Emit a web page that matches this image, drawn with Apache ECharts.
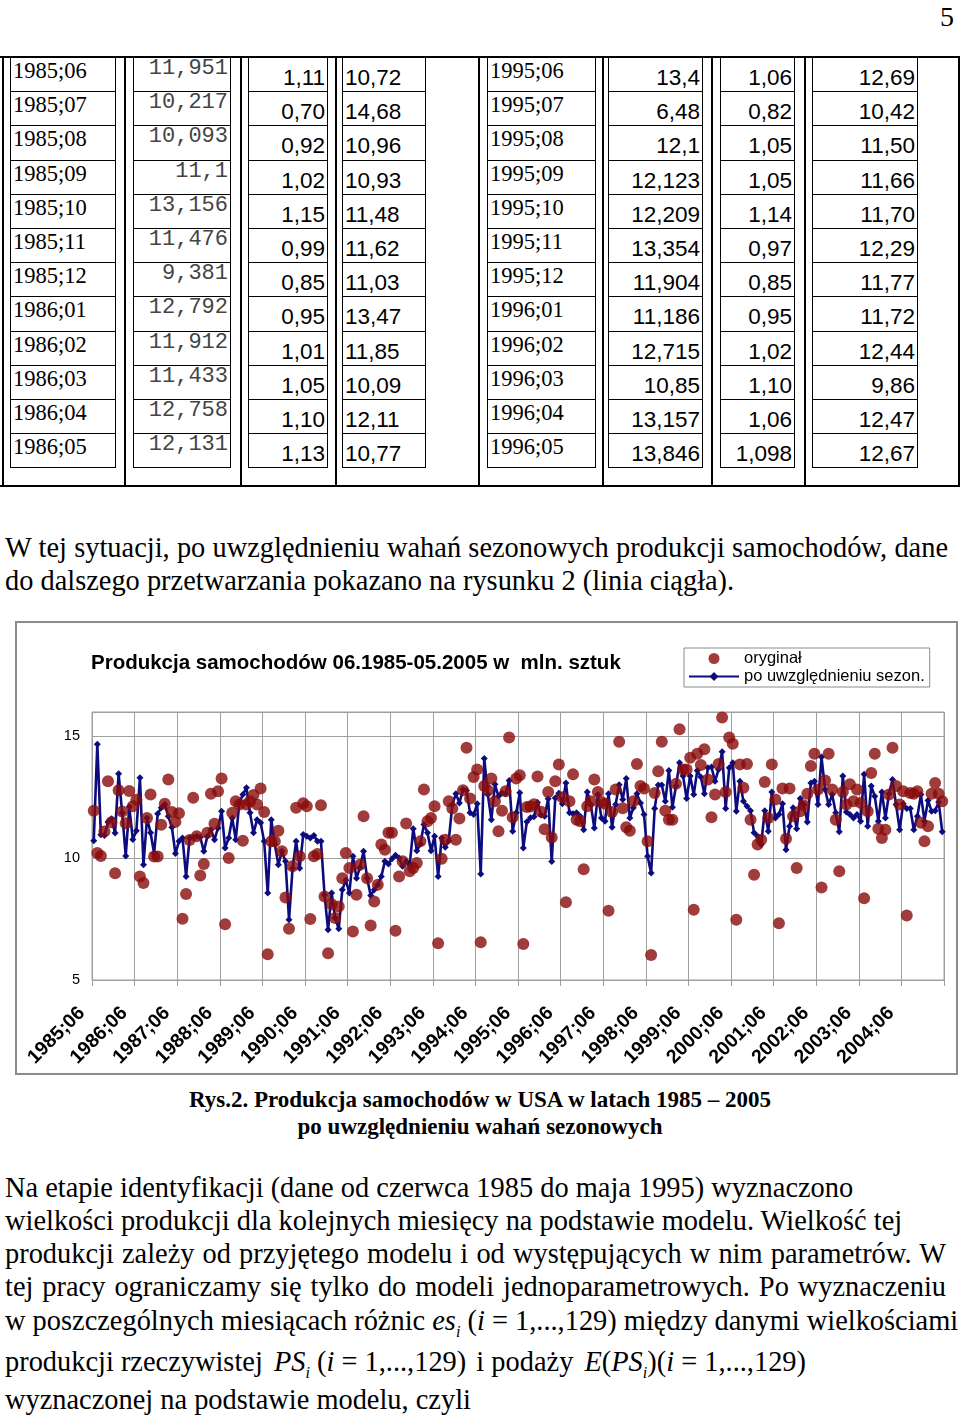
<!DOCTYPE html>
<html><head><meta charset="utf-8">
<script src="https://cdn.jsdelivr.net/npm/echarts@6/dist/echarts.min.js"></script>
<style>
body{margin:0;background:#fff;width:960px;height:1420px;position:relative;overflow:hidden;font-family:'Liberation Serif','Times New Roman',serif;color:#000;}
.t{position:absolute;white-space:nowrap;line-height:1;}
.box{position:absolute;box-sizing:border-box;border:1px solid #000;}
.vl{position:absolute;width:1.5px;background:#000;}
.hl{position:absolute;height:1.5px;background:#000;}
.p{position:absolute;white-space:nowrap;line-height:1;font-size:28.4px;left:5px;}
.j{text-align:justify;text-align-last:justify;}
.p sub{font-size:16px;}
</style></head><body>
<div class="t" style="left:940px;top:3px;font-size:28px">5</div>
<div id="tbl"></div>

<div class="p j" style="top:534px;width:943px;">W tej sytuacji, po uwzględnieniu wahań sezonowych produkcji samochodów, dane</div>
<div class="p" style="top:567px;">do dalszego przetwarzania pokazano na rysunku 2 (linia ciągła).</div>

<div style="position:absolute;left:15px;top:621px;width:943px;height:454px;border:2px solid #8c8c8c;box-sizing:border-box"></div>
<div id="chart" style="position:absolute;left:15px;top:621px;width:943px;height:454px"></div>

<div class="t" style="left:0;width:960px;text-align:center;top:1088px;font-size:23px;font-weight:bold;">Rys.2. Produkcja samochodów w USA w latach 1985 – 2005</div>
<div class="t" style="left:0;width:960px;text-align:center;top:1115px;font-size:23px;font-weight:bold;">po uwzględnieniu wahań sezonowych</div>

<div class="p" style="top:1174px;">Na etapie identyfikacji (dane od czerwca 1985 do maja 1995) wyznaczono</div>
<div class="p" style="top:1207px;">wielkości produkcji dla kolejnych miesięcy na podstawie modelu. Wielkość tej</div>
<div class="p j" style="top:1240px;width:941px;">produkcji zależy od przyjętego modelu i od występujących w nim parametrów. W</div>
<div class="p j" style="top:1273px;width:941px;">tej pracy ograniczamy się tylko do modeli jednoparametrowych. Po wyznaczeniu</div>
<div class="p j" style="top:1307px;width:950px;">w poszczególnych miesiącach różnic <i>es<sub>i</sub></i> (<i>i</i> = 1,...,129) między danymi wielkościami</div>
<div class="p" style="top:1348px;">produkcji rzeczywistej <span style="margin-left:4px"><i>PS<sub>i</sub></i></span> (<i>i</i> = 1,...,129) <span style="margin-left:3px">i podaży</span> <span style="margin-left:4px"><i>E</i>(<i>PS<sub>i</sub></i>)(<i>i</i> = 1,...,129)</span></div>
<div class="p" style="top:1386px;">wyznaczonej na podstawie modelu, czyli</div>

<script>
// ---------- table data ----------
const tDatesA = ['1985;06','1985;07','1985;08','1985;09','1985;10','1985;11','1985;12','1986;01','1986;02','1986;03','1986;04','1986;05'];
const tOrigA  = ['11,951','10,217','10,093','11,1','13,156','11,476','9,381','12,792','11,912','11,433','12,758','12,131'];
const tFactA  = ['1,11','0,70','0,92','1,02','1,15','0,99','0,85','0,95','1,01','1,05','1,10','1,13'];
const tAdjA   = ['10,72','14,68','10,96','10,93','11,48','11,62','11,03','13,47','11,85','10,09','12,11','10,77'];
const tDatesB = ['1995;06','1995;07','1995;08','1995;09','1995;10','1995;11','1995;12','1996;01','1996;02','1996;03','1996;04','1996;05'];
const tOrigB  = ['13,4','6,48','12,1','12,123','12,209','13,354','11,904','11,186','12,715','10,85','13,157','13,846'];
const tFactB  = ['1,06','0,82','1,05','1,05','1,14','0,97','0,85','0,95','1,02','1,10','1,06','1,098'];
const tAdjB   = ['12,69','10,42','11,50','11,66','11,70','12,29','11,77','11,72','12,44','9,86','12,47','12,67'];

// ---------- chart data (mln. sztuk), 06.1985 - 05.2005 ----------
const startYear = 1985, startMonth = 6, monthCount = 240;
const original = [
11.951,10.217,10.093,11.1,13.156,11.476,9.381,12.792,11.912,11.433,12.758,12.131,
12.40,9.25,8.98,11.65,12.61,10.07,10.07,11.37,12.23,13.23,11.90,11.49,
11.84,7.51,8.53,10.75,12.48,10.90,9.29,9.76,11.04,12.64,11.41,12.75,
13.27,7.29,10.01,11.86,12.34,12.20,10.72,12.20,12.34,12.59,12.20,12.86,
11.90,6.06,10.69,10.69,11.13,10.28,8.39,7.10,9.67,12.07,10.08,12.25,
12.13,7.50,10.08,10.17,12.17,8.43,6.10,8.11,7.54,8.02,9.18,10.21,
9.60,6.99,8.50,9.73,11.72,9.18,7.24,8.22,8.91,10.56,10.35,11.04,
11.04,7.02,9.25,9.87,11.42,9.46,9.60,9.80,10.69,12.82,11.52,11.65,
12.13,6.51,9.98,10.76,12.34,12.04,10.76,11.63,12.79,14.53,12.45,13.33,
13.64,6.55,12.96,12.79,13.27,12.34,11.11,11.95,12.75,14.95,11.68,13.27,
13.4,6.48,12.1,12.123,12.209,13.354,11.904,11.186,12.715,10.85,13.157,13.846,
12.50,8.19,12.34,13.44,11.58,11.52,9.55,12.13,12.34,13.23,12.72,12.31,
12.23,7.84,11.90,12.82,14.78,12.05,11.27,11.13,12.34,13.87,12.96,12.86,
10.69,6.03,12.68,13.57,14.78,11.95,11.58,11.58,13.05,15.29,13.64,13.64,
14.12,7.88,14.29,13.82,14.47,13.23,11.68,12.61,13.87,15.77,12.72,14.95,
14.70,7.47,13.85,12.89,13.87,11.58,9.32,10.56,10.76,13.13,11.65,13.85,
12.41,7.33,12.86,10.80,12.86,11.72,9.60,11.93,12.17,12.64,13.78,14.29,
12.82,8.80,13.19,14.29,12.82,11.58,9.46,12.72,12.20,13.03,12.34,12.82,
12.27,8.36,11.93,13.50,14.29,11.21,10.83,11.17,12.61,14.53,12.96,12.20,
12.75,7.65,12.68,12.64,12.75,11.45,10.69,11.31,12.64,13.09,12.64,12.34
];
const adjusted = [
10.72,14.68,10.96,10.93,11.48,11.62,11.03,13.47,11.85,10.09,12.11,10.77,
11.13,13.30,9.73,11.65,11.04,10.19,11.82,12.07,12.20,11.72,11.27,10.19,
10.69,10.83,9.25,10.83,10.86,10.90,10.86,10.28,10.90,11.17,10.76,11.24,
11.93,10.42,10.83,11.65,10.76,12.27,12.61,12.89,11.86,11.04,11.58,11.45,
10.69,8.57,11.58,10.56,9.73,10.28,9.87,7.47,9.59,10.69,9.59,10.97,
10.90,10.83,10.93,10.69,10.69,8.50,7.06,8.57,7.54,7.10,8.70,9.09,
8.57,10.08,9.18,9.62,10.28,9.18,8.47,8.70,8.91,9.25,9.87,9.76,
9.98,10.12,10.01,9.67,9.87,9.73,11.21,10.31,10.58,11.38,11.04,10.31,
10.90,9.25,10.83,10.45,10.72,12.20,12.64,12.27,12.82,12.78,11.86,11.79,
12.23,9.35,14.09,12.61,11.58,13.03,12.54,12.68,12.64,13.19,11.11,11.86,
12.69,10.42,11.50,11.66,11.70,12.29,11.77,11.72,12.44,9.86,12.47,12.67,
12.23,13.09,11.86,11.82,11.86,11.72,11.17,12.72,12.20,11.24,12.61,11.65,
11.52,12.64,11.27,12.20,13.01,12.41,13.27,11.65,12.07,12.64,12.27,11.79,
10.08,9.39,12.04,13.00,13.00,12.34,13.60,12.09,12.96,13.92,13.37,12.45,
13.37,12.61,13.60,13.33,12.64,13.71,13.74,13.16,13.64,14.37,12.04,13.71,
13.92,11.93,13.16,12.34,12.13,11.95,11.04,10.90,10.56,11.95,11.11,12.72,
11.65,11.79,12.23,10.35,11.31,12.07,11.21,12.45,12.20,11.49,13.09,13.16,
12.20,14.15,12.82,12.20,12.61,11.86,11.08,13.37,11.90,11.79,11.65,11.79,
11.52,13.44,11.31,12.96,12.54,11.52,12.72,11.65,12.64,13.23,12.20,11.17,
12.23,12.04,12.04,11.17,11.72,12.61,11.52,12.37,11.93,11.95,12.31,11.08
];
const yTicks = [5, 10, 15];
const seriesNames = ['oryginał', 'po uwzględnieniu sezon.'];
const chartTitle = 'Produkcja samochodów 06.1985-05.2005 w  mln. sztuk';

// category labels "YYYY;MM"
const categories = [];
for (let k = 0; k < monthCount; k++) {
  const mm = (startMonth - 1 + k) % 12 + 1;
  const yy = startYear + Math.floor((startMonth - 1 + k) / 12);
  categories.push(yy + ';' + String(mm).padStart(2, '0'));
}

// ---------- table layout ----------
(function buildTable(){
  const host = document.getElementById('tbl');
  const top0 = 57, rowH = 34.2, nRows = 12;
  const cols = [
    {data:tDatesA, x1:10, x2:116, font:"'Liberation Serif'", size:22.5, align:'left', dy:3, color:'#000'},
    {data:tOrigA, x1:133, x2:231, font:"'Liberation Mono'", size:22, align:'right', dy:1, color:'#444'},
    {data:tFactA, x1:248, x2:328, font:"'Liberation Sans'", size:22.5, align:'right', dy:10, color:'#000'},
    {data:tAdjA, x1:342, x2:426, font:"'Liberation Sans'", size:22.5, align:'left', dy:10, color:'#000'},
    {data:tDatesB, x1:487, x2:596, font:"'Liberation Serif'", size:22.5, align:'left', dy:3, color:'#000'},
    {data:tOrigB, x1:608, x2:703, font:"'Liberation Sans'", size:22.5, align:'right', dy:10, color:'#000'},
    {data:tFactB, x1:720, x2:795, font:"'Liberation Sans'", size:22.5, align:'right', dy:10, color:'#000'},
    {data:tAdjB, x1:812, x2:918, font:"'Liberation Sans'", size:22.5, align:'right', dy:10, color:'#000'}
  ];
  let html = '';
  html += `<div class="hl" style="left:0;width:960px;top:${top0-1}px;height:2px"></div>`;
  html += `<div class="hl" style="left:0;width:960px;top:${top0+rowH*nRows+18}px"></div>`;
  [2,124,240,335,478,602,711,804,958].forEach(x=>{
    html += `<div class="vl" style="left:${x}px;top:${top0}px;height:${rowH*nRows+19}px"></div>`;
  });
  cols.forEach(c=>{
    c.data.forEach((s,r)=>{
      const y = top0 + rowH*r;
      html += `<div class="box" style="left:${c.x1}px;top:${y}px;width:${c.x2-c.x1}px;height:${rowH+1}px"></div>`;
      const pad = 3;
      const style = c.align==='left' ? `left:${c.x1+pad}px;` : `left:${c.x1}px;width:${c.x2-c.x1-pad}px;text-align:right;`;
      html += `<div class="t" style="${style}top:${y+c.dy}px;font-family:${c.font};font-size:${c.size}px;color:${c.color}">${s}</div>`;
    });
  });
  host.innerHTML = html;
})();

// ---------- chart ----------
const chart = echarts.init(document.getElementById('chart'), null, {renderer:'canvas'});
const navy = '#0c0c7e', red = '#8a0b0b', grid = '#a0a0a0';
chart.setOption({
  animation:false,
  title:{text:chartTitle, left:71, top:27, textStyle:{fontFamily:'Liberation Sans', fontSize:20.5, fontWeight:'bold', color:'#000'}},
  legend:{
    data:seriesNames, left:669, top:27, orient:'vertical', itemGap:1, padding:[2,5,2,4],
    borderColor:'#8c8c8c', borderWidth:1, itemWidth:50, itemHeight:11,
    textStyle:{fontFamily:'Liberation Sans', fontSize:16.5, color:'#000'}
  },
  grid:{left:77, top:91, width:852, height:268, show:true, borderColor:grid, borderWidth:1},
  xAxis:{
    type:'category', data:categories, boundaryGap:true,
    axisLine:{lineStyle:{color:grid}},
    axisTick:{show:true, interval:11, length:6, lineStyle:{color:grid}},
    axisLabel:{interval:11, rotate:45, fontSize:19.5, fontWeight:'bold', color:'#000', margin:18, padding:[0,17,0,0], fontFamily:'Liberation Sans'},
    splitLine:{show:true, interval:11, lineStyle:{color:grid, width:1}}
  },
  yAxis:{
    type:'value', min:5, max:16, interval:5,
    axisLine:{show:false}, axisTick:{show:false},
    axisLabel:{fontSize:14.5, color:'#000', margin:12, fontFamily:'Liberation Sans', formatter:v=> yTicks.includes(v) ? String(v) : ''},
    splitLine:{lineStyle:{color:grid, width:1}}
  },
  series:[
    {name:seriesNames[0], type:'scatter', data:original, symbol:'circle', symbolSize:12, itemStyle:{color:red}, z:3},
    {name:seriesNames[1], type:'line', data:adjusted, symbol:'diamond', symbolSize:7, showAllSymbol:true,
     lineStyle:{color:navy, width:2.6}, itemStyle:{color:navy}, z:2}
  ]
});
</script>
</body></html>
